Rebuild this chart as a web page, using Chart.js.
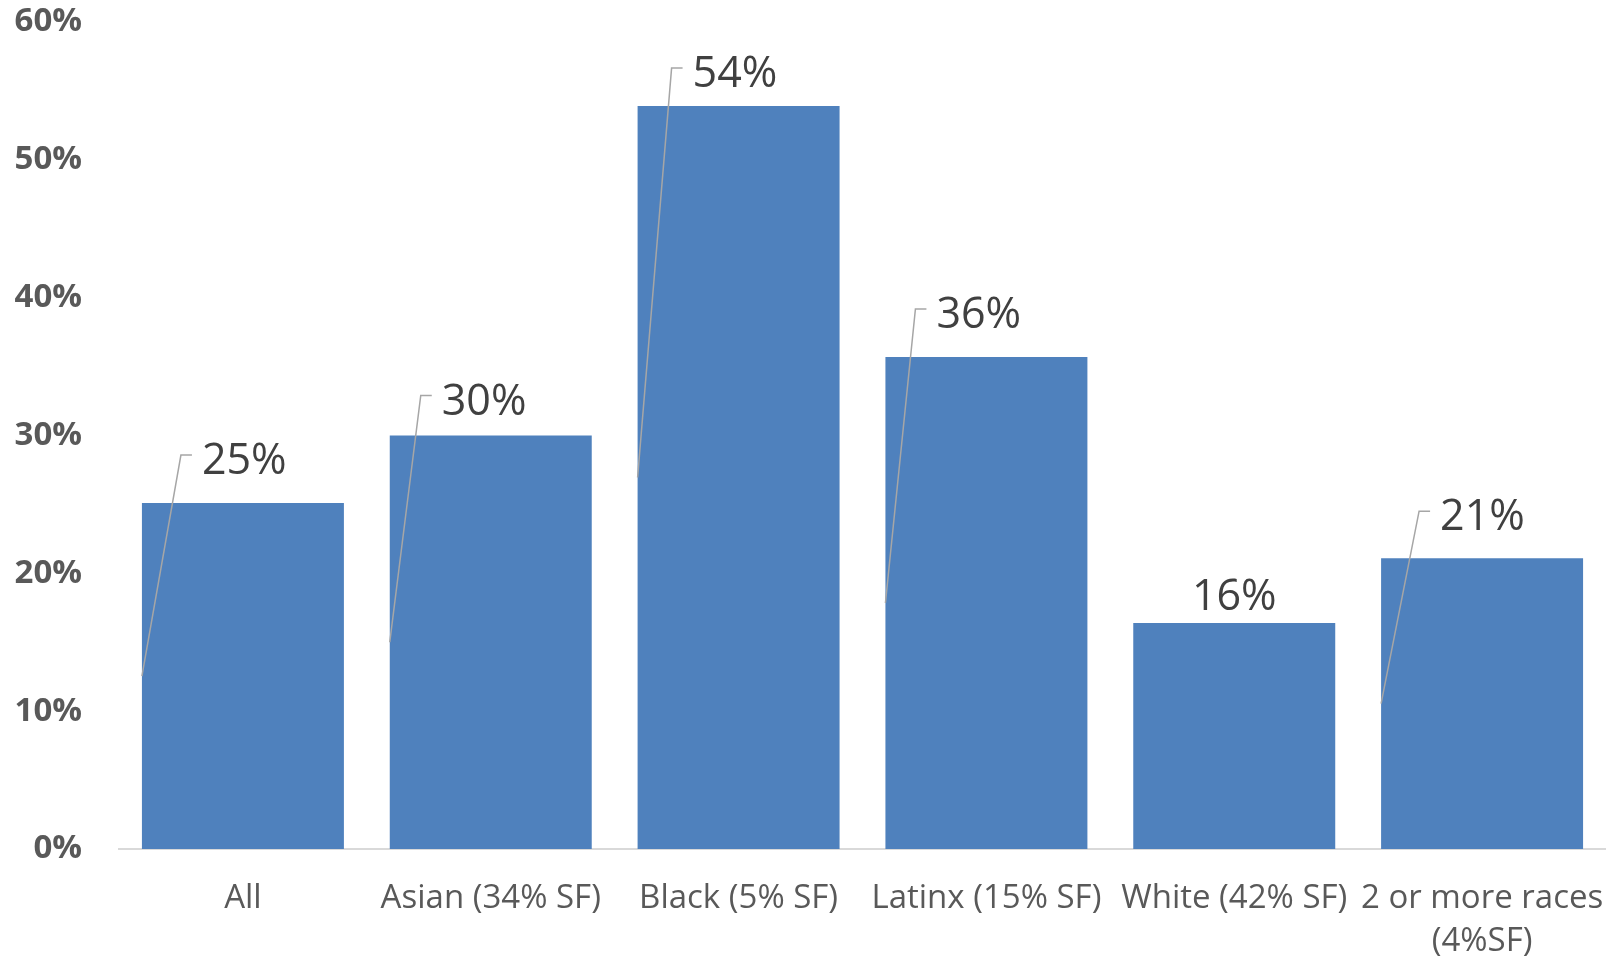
<!DOCTYPE html>
<html>
<head>
<meta charset="utf-8">
<script src="https://cdn.jsdelivr.net/npm/chart.js"></script>
<style>
  html, body { margin: 0; padding: 0; background: #fff; }
  #wrap { width: 1606px; height: 960px; overflow: hidden; }
</style>
</head>
<body>
<div id="wrap"><canvas id="chart" width="1606" height="960"></canvas></div>
<script>
// values, in percent
const categories = [
  'All',
  'Asian (34% SF)',
  'Black (5% SF)',
  'Latinx (15% SF)',
  'White (42% SF)',
  ['2 or more races', '(4%SF)'],
]
const shares = [25.1, 30.0, 53.9, 35.7, 16.4, 21.1]
const valueLabels = ['25%', '30%', '54%', '36%', '16%', '21%']
const yTicks = [0, 10, 20, 30, 40, 50, 60]

// where each data label sits: elbow of the leader line relative to the bar's top-left,
// null = plain label centred above the bar
const leaderElbows = [[39, -48], [31, -40], [34, -38], [30, -48], null, [38, -47]]

const BAR_BLUE   = '#4f81bd'
const TEXT_DARK  = '#404040'
const TEXT_GREY  = '#595959'
const LEADER     = '#a6a6a6'
const FONT       = '"Open Sans", "DejaVu Sans", sans-serif'

const leaderLabels = {
  id: 'leaderLabels',
  afterDatasetsDraw(chart) {
    const { ctx } = chart
    const meta = chart.getDatasetMeta(0)
    ctx.save()
    ctx.font = `43px ${FONT}`
    ctx.fillStyle = TEXT_DARK
    ctx.textBaseline = 'alphabetic'
    meta.data.forEach((bar, i) => {
      const left = bar.x - bar.width / 2
      const top  = bar.y
      const elbow = leaderElbows[i]
      if (!elbow) {
        ctx.textAlign = 'center'
        ctx.fillText(valueLabels[i], bar.x, top - 13)
        return
      }
      const ex = left + elbow[0]
      const ey = top + elbow[1]
      ctx.strokeStyle = LEADER
      ctx.lineWidth = 1.5
      ctx.beginPath()
      ctx.moveTo(left, (top + bar.base) / 2)
      ctx.lineTo(ex, ey)
      ctx.lineTo(ex + 11, ey)
      ctx.stroke()
      ctx.textAlign = 'left'
      ctx.fillText(valueLabels[i], ex + 21, ey + 19)
    })
    ctx.restore()
  },
}

function draw() {
  new Chart(document.getElementById('chart'), {
    type: 'bar',
    data: {
      labels: categories,
      datasets: [{
        data: shares,
        backgroundColor: BAR_BLUE,
        borderWidth: 0,
        barPercentage: 0.815,
        categoryPercentage: 1,
      }],
    },
    plugins: [leaderLabels],
    options: {
      responsive: false,
      animation: false,
      devicePixelRatio: 1,
      layout: { padding: { top: 22, right: -7, bottom: 0, left: 0 } },
      plugins: { legend: { display: false }, tooltip: { enabled: false } },
      scales: {
        x: {
          grid: { display: false, drawTicks: false },
          border: { display: true, color: '#d9d9d9', width: 2 },
          ticks: {
            autoSkip: false,
            maxRotation: 0,
            minRotation: 0,
            padding: 28,
            color: TEXT_GREY,
            font: { family: FONT, size: 33, lineHeight: '43px' },
          },
          afterFit: scale => {
            scale.height = 111
            scale.paddingLeft = 0
            scale.paddingRight = 0
          },
        },
        y: {
          min: 0,
          max: 60,
          grid: { display: false, drawTicks: false },
          border: { display: false },
          afterBuildTicks: scale => { scale.ticks = yTicks.map(v => ({ value: v })) },
          ticks: {
            padding: 37,
            color: TEXT_GREY,
            font: { family: FONT, size: 33, weight: 'bold' },
            callback: v => `${v}%`,
          },
          afterFit: scale => {
            scale.width = 119
            scale.paddingTop = 0
            scale.paddingBottom = 0
          },
        },
      },
    },
  })
}

document.fonts.load(`32px ${FONT}`).then(draw, draw)
</script>
</body>
</html>
